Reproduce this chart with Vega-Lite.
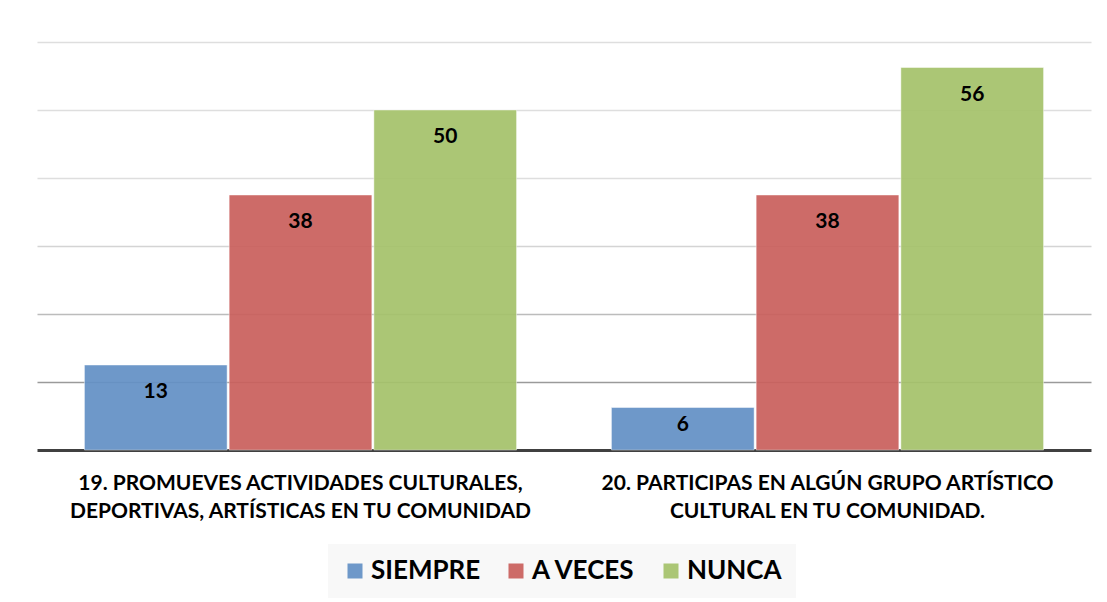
{
  "$schema": "https://vega.github.io/schema/vega-lite/v6.json",
  "width": 1054,
  "height": 408,
  "autosize": {"type": "none"},
  "padding": {"left": 37, "top": 42, "right": 16, "bottom": 152},
  "background": "white",
  "config": {
    "view": {"stroke": null},
    "font": "Lato"
  },
  "data": {
    "values": [
      {"pregunta": "19", "respuesta": "SIEMPRE", "valor": 12.5},
      {"pregunta": "19", "respuesta": "A VECES", "valor": 37.5},
      {"pregunta": "19", "respuesta": "NUNCA", "valor": 50},
      {"pregunta": "20", "respuesta": "SIEMPRE", "valor": 6.25},
      {"pregunta": "20", "respuesta": "A VECES", "valor": 37.5},
      {"pregunta": "20", "respuesta": "NUNCA", "valor": 56.25}
    ]
  },
  "encoding": {
    "x": {
      "field": "pregunta",
      "type": "nominal",
      "scale": {"paddingInner": 0.18, "paddingOuter": 0.09},
      "axis": {
        "title": null,
        "labelAngle": 0,
        "labelExpr": "datum.value == '19' ? ['19. PROMUEVES ACTIVIDADES CULTURALES,', 'DEPORTIVAS, ARTÍSTICAS EN TU COMUNIDAD'] : ['20. PARTICIPAS EN ALGÚN GRUPO ARTÍSTICO', 'CULTURAL EN TU COMUNIDAD.']",
        "labelFont": "Lato",
        "labelFontSize": 21,
        "labelFontWeight": "bold",
        "labelColor": "#000000",
        "labelLineHeight": 28,
        "labelPadding": 22,
        "labelLimit": 0,
        "ticks": false,
        "domainColor": "#404040",
        "domainWidth": 3,
        "grid": false
      }
    },
    "xOffset": {
      "field": "respuesta",
      "type": "nominal",
      "sort": ["SIEMPRE", "A VECES", "NUNCA"],
      "scale": {"paddingInner": 0.014, "paddingOuter": 0}
    },
    "y": {
      "field": "valor",
      "type": "quantitative",
      "scale": {"domain": [0, 60], "nice": false},
      "axis": {
        "title": null,
        "labels": false,
        "ticks": false,
        "domain": false,
        "values": [10, 20, 30, 40, 50, 60],
        "gridWidth": 1.5,
        "gridColor": {
          "condition": [
            {"test": "datum.value <= 10", "value": "#9a9a9a"},
            {"test": "datum.value <= 20", "value": "#bcbcbc"},
            {"test": "datum.value <= 30", "value": "#d4d4d4"}
          ],
          "value": "#dedede"
        }
      }
    }
  },
  "layer": [
    {
      "mark": {
        "type": "bar",
        "fillOpacity": 0.93,
        "stroke": "#ffffff",
        "strokeOpacity": 0.45,
        "strokeWidth": 1
      },
      "encoding": {
        "color": {
          "field": "respuesta",
          "type": "nominal",
          "sort": ["SIEMPRE", "A VECES", "NUNCA"],
          "scale": {
            "domain": ["SIEMPRE", "A VECES", "NUNCA"],
            "range": ["#6390c5", "#c9605d", "#a5c26a"]
          },
          "legend": {
            "title": null,
            "orient": "none",
            "direction": "horizontal",
            "legendX": 291,
            "legendY": 502,
            "fillColor": "#f8f8f8",
            "padding": 14,
            "symbolType": "square",
            "symbolSize": 225,
            "symbolStrokeWidth": 0,
            "symbolOpacity": 0.93,
            "labelFont": "Lato",
            "labelFontSize": 26,
            "labelFontWeight": "bold",
            "labelColor": "#000000",
            "labelOffset": 3,
            "columnPadding": 22,
            "labelLimit": 0
          }
        }
      }
    },
    {
      "transform": [{"filter": "datum.valor >= 10"}],
      "mark": {
        "type": "text",
        "baseline": "middle",
        "dy": 27,
        "font": "Lato",
        "fontSize": 21,
        "fontWeight": "bold",
        "color": "#000000"
      },
      "encoding": {
        "text": {"field": "valor", "type": "quantitative", "format": ".0f"}
      }
    },
    {
      "transform": [{"filter": "datum.valor < 10"}],
      "mark": {
        "type": "text",
        "baseline": "middle",
        "dy": 17,
        "font": "Lato",
        "fontSize": 21,
        "fontWeight": "bold",
        "color": "#000000"
      },
      "encoding": {
        "text": {"field": "valor", "type": "quantitative", "format": ".0f"}
      }
    }
  ]
}
